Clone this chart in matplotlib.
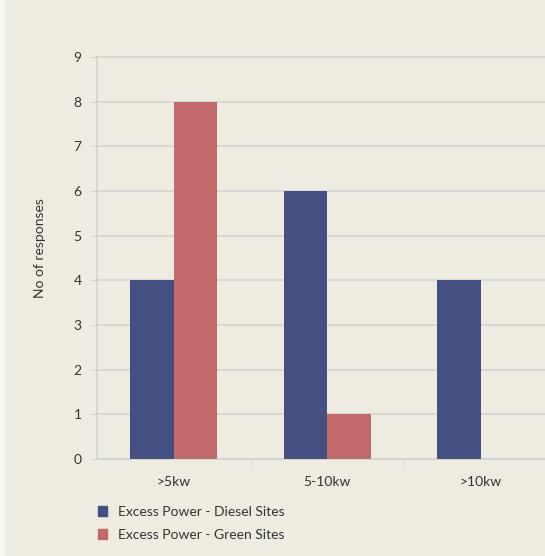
import numpy as np
import matplotlib.pyplot as plt
import matplotlib.patches as mpatches

categories = ['>5kw', '5-10kw', '>10kw']
diesel = [4, 6, 4]
green = [8, 1, 0]
series_names = ['Excess Power - Diesel Sites', 'Excess Power - Green Sites']

BG = '#EEEBE0'
BLUE = '#445082'
RED = '#C26A69'
GRID = '#D4D4D4'
TXT = '#333333'

plt.rcParams['font.family'] = ['Lato', 'DejaVu Sans']

fig = plt.figure(figsize=(5.45, 5.56), dpi=100, facecolor=BG)
# thin lighter strip on the left edge
fig.patches.append(mpatches.Rectangle((0, 0), 4 / 545, 1, transform=fig.transFigure,
                                      color='#F7F6F2', zorder=0))
ax = fig.add_axes([97 / 545, 1 - 459 / 556, 448 / 545, 402 / 556])
ax.set_facecolor(BG)

x = np.arange(len(categories))
w = 0.283
ax.bar(x - w / 2, diesel, width=w, color=BLUE, zorder=3)
ax.bar(x + w / 2, green, width=w, color=RED, zorder=3)

ax.set_ylim(0, 9)
ax.set_yticks(range(0, 10))
ax.set_xlim(-0.5, -0.5 + 448 / 153.5)
ax.set_xticks(x)
ax.set_xticklabels(categories)
ax.set_xticks([0.5, 1.5], minor=True)

ax.grid(axis='y', color=GRID, linewidth=1.2, zorder=0, clip_on=False)
for s in ['top', 'right']:
    ax.spines[s].set_visible(False)
ax.spines['left'].set_color(GRID)
ax.spines['bottom'].set_color(GRID)
ax.spines['left'].set_linewidth(1.2)
ax.spines['bottom'].set_linewidth(1.2)

ax.tick_params(axis='y', length=5, color=GRID, labelsize=10, labelcolor=TXT, pad=6)
ax.tick_params(axis='x', which='major', length=0, labelsize=10, labelcolor=TXT, pad=12)
ax.tick_params(axis='x', which='minor', length=5, color=GRID)

fig.text(40 / 545, 1 - 248 / 556, 'No of responses', rotation=90, ha='center', va='center',
         fontsize=10, color=TXT)

handles = [mpatches.Patch(color=BLUE), mpatches.Patch(color=RED)]
fig.legend(handles, series_names, loc='upper left', bbox_to_anchor=(85 / 545, 1 - 493 / 556),
           frameon=False, fontsize=10, labelcolor=TXT, handlelength=0.7, handleheight=0.7,
           handletextpad=0.8, labelspacing=0.8)

fig.savefig('out.png', dpi=100, facecolor=BG)
